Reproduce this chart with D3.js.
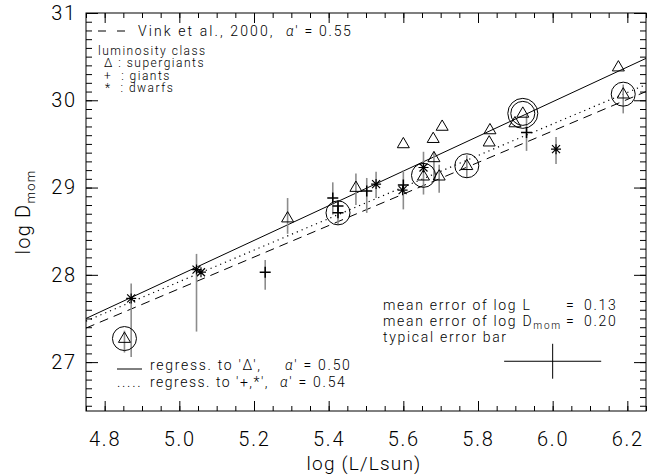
<!DOCTYPE html>
<html><head><meta charset="utf-8">
<script src="https://cdn.jsdelivr.net/npm/d3@7"></script>
<style>
body{margin:0;background:#fff}
text{font-family:Roboto,"DejaVu Sans",sans-serif;font-weight:300;fill:#000}
</style></head>
<body><svg id="c" width="663" height="476"></svg>
<script>
// ---------- data ----------
const xTicks = [4.8, 5.0, 5.2, 5.4, 5.6, 5.8, 6.0, 6.2];
const yTicks = [27, 28, 29, 30, 31];
const xDomain = [4.75, 6.25];
const yDomain = [26.44, 31];

// [logL, logD, errLow, errHigh] (null = no bar drawn)
const supergiants = [
  [4.853, 27.27, 27.11, 27.36],
  [5.290, 28.65, 28.47, 28.88],
  [5.473, 29.00, 28.80, 29.16],
  [5.600, 29.50, null, null],
  [5.654, 29.13, 28.92, 29.41],
  [5.682, 29.34, 29.09, 29.41],
  [5.680, 29.56, null, null],
  [5.704, 29.70, null, null],
  [5.696, 29.13, 28.94, 29.26],
  [5.770, 29.25, 29.11, 29.37],
  [5.830, 29.52, null, null],
  [5.832, 29.66, null, null],
  [5.899, 29.74, null, null],
  [5.920, 29.85, null, null],
  [6.176, 30.38, null, null],
  [6.189, 30.07, 29.85, 30.18]
];
const giants = [
  [5.230, 28.03, 27.83, 28.17],
  [5.411, 28.88, 28.69, 29.06],
  [5.425, 28.79, 28.58, 28.85],
  [5.425, 28.71, null, null],
  [5.502, 28.96, 28.71, 29.11],
  [5.600, 29.03, 28.75, 29.20],
  [5.930, 29.63, 29.42, 29.84]
];
const dwarfs = [
  [4.871, 27.73, 27.06, 27.90],
  [5.046, 28.06, 27.35, 28.24],
  [5.058, 28.03, null, null],
  [5.527, 29.04, 28.88, 29.18],
  [5.598, 28.97, null, null],
  [5.654, 29.23, null, null],
  [6.009, 29.44, 29.27, 29.58]
];
// [logL, logD, number of rings]
const circled = [
  [4.853, 27.27, 1],
  [5.425, 28.71, 1],
  [5.654, 29.14, 1],
  [5.770, 29.25, 1],
  [5.920, 29.85, 2],
  [6.189, 30.07, 1]
];
// fitted relations: endpoints [logL, logD]
const regressSuper  = [[4.75, 27.50], [6.25, 30.48]];
const regressOthers = [[4.75, 27.47], [6.25, 30.18]];
const vink2000      = [[4.75, 27.39], [6.25, 30.10]];
const alphaSuper = '0.50', alphaOthers = '0.54', alphaVink = '0.55';
const meanErrL = 0.13, meanErrD = 0.20;
const typicalBarCenter = [6.0, 27.01];

// ---------- drawing ----------
const svg = d3.select('#c');
const L = 86, R = 646, T = 13, B = 411;
const x = d3.scaleLinear().domain(xDomain).range([L, R]);
const y = d3.scaleLinear().domain(yDomain).range([B, T]);

function clean(g){
  g.select('.domain').remove();
  g.selectAll('line').attr('stroke', '#000').attr('stroke-width', 1);
}
const xMinor = d3.range(xDomain[0], xDomain[1] + 1e-9, 0.05);
const yMinor = d3.range(26.5, 31.0001, 0.1);

// bottom
svg.append('g').attr('transform', `translate(0,${B})`)
  .call(d3.axisBottom(x).tickValues(xMinor).tickSize(-5).tickFormat('')).call(clean);
svg.append('g').attr('transform', `translate(0,${B})`)
  .call(d3.axisBottom(x).tickValues(xTicks).tickSize(-10).tickPadding(21).tickFormat(d3.format('.1f')))
  .call(clean)
  .selectAll('text').attr('font-size', 20).attr('font-family', 'Roboto,sans-serif').style('letter-spacing', '1.8px');
// top
svg.append('g').attr('transform', `translate(0,${T})`)
  .call(d3.axisTop(x).tickValues(xMinor).tickSize(-5).tickFormat('')).call(clean);
svg.append('g').attr('transform', `translate(0,${T})`)
  .call(d3.axisTop(x).tickValues(xTicks).tickSize(-10).tickFormat('')).call(clean);
// left
svg.append('g').attr('transform', `translate(${L},0)`)
  .call(d3.axisLeft(y).tickValues(yMinor).tickSize(-6).tickFormat('')).call(clean);
svg.append('g').attr('transform', `translate(${L},0)`)
  .call(d3.axisLeft(y).tickValues(yTicks).tickSize(-12).tickPadding(9).tickFormat(d3.format('d')))
  .call(clean)
  .selectAll('text').attr('font-size', 20).attr('font-family', 'Roboto,sans-serif').style('letter-spacing', '1.8px');
// right
svg.append('g').attr('transform', `translate(${R},0)`)
  .call(d3.axisRight(y).tickValues(yMinor).tickSize(-6).tickFormat('')).call(clean);
svg.append('g').attr('transform', `translate(${R},0)`)
  .call(d3.axisRight(y).tickValues(yTicks).tickSize(-12).tickFormat('')).call(clean);

svg.append('rect').attr('x', L).attr('y', T).attr('width', R - L).attr('height', B - T)
  .attr('fill', 'none').attr('stroke', '#000').attr('stroke-width', 1);

// lines
const line = d3.line().x(d => x(d[0])).y(d => y(d[1]));
svg.append('path').attr('d', line(regressSuper)).attr('fill', 'none').attr('stroke', '#000').attr('stroke-width', 1);
svg.append('path').attr('d', line(regressOthers)).attr('fill', 'none').attr('stroke', '#000').attr('stroke-width', 1.2).attr('stroke-dasharray', '1.2,4');
svg.append('path').attr('d', line(vink2000)).attr('fill', 'none').attr('stroke', '#000').attr('stroke-width', 1).attr('stroke-dasharray', '9,6');

// error bars
const allPts = supergiants.concat(giants, dwarfs).filter(d => d[2] !== null);
svg.append('g').selectAll('line').data(allPts).join('line')
  .attr('x1', d => x(d[0])).attr('x2', d => x(d[0]))
  .attr('y1', d => y(d[2])).attr('y2', d => y(d[3]))
  .attr('stroke', '#8c8c8c').attr('stroke-width', 1.6);

// circles
circled.forEach(c => {
  d3.range(c[2]).forEach(i => {
    svg.append('circle').attr('cx', x(c[0])).attr('cy', y(c[1])).attr('r', 12 + i * 3)
      .attr('fill', 'none').attr('stroke', '#000').attr('stroke-width', 1);
  });
});

// markers
svg.append('g').selectAll('path').data(supergiants).join('path')
  .attr('transform', d => `translate(${x(d[0])},${y(d[1])})`)
  .attr('d', 'M0,-6.5L6,3.8L-6,3.8Z').attr('fill', 'none').attr('stroke', '#000').attr('stroke-width', 1);
svg.append('g').selectAll('path').data(giants).join('path')
  .attr('transform', d => `translate(${x(d[0])},${y(d[1])})`)
  .attr('d', 'M-5.5,0H5.5M0,-5.5V5.5').attr('fill', 'none').attr('stroke', '#000').attr('stroke-width', 1.5);
svg.append('g').selectAll('path').data(dwarfs).join('path')
  .attr('transform', d => `translate(${x(d[0])},${y(d[1])})`)
  .attr('d', 'M-5,0H5M0,-5V5M-4,-4L4,4M-4,4L4,-4').attr('fill', 'none').attr('stroke', '#000').attr('stroke-width', 1.2);

// typical error bar
const tb = typicalBarCenter;
svg.append('line').attr('x1', x(tb[0] - meanErrL)).attr('x2', x(tb[0] + meanErrL))
  .attr('y1', y(tb[1])).attr('y2', y(tb[1])).attr('stroke', '#000').attr('stroke-width', 1);
svg.append('line').attr('x1', x(tb[0])).attr('x2', x(tb[0]))
  .attr('y1', y(tb[1] - meanErrD)).attr('y2', y(tb[1] + meanErrD)).attr('stroke', '#000').attr('stroke-width', 1);

// ---------- text ----------
const fs = 14;
const ls = '1.7px';
function txt(xp, yp, s, size, spacing){
  return svg.append('text').attr('x', xp).attr('y', yp).attr('font-size', size || fs)
    .attr('dominant-baseline', 'central').style('letter-spacing', spacing || ls)
    .attr('xml:space', 'preserve').text(s);
}
function alphaText(xp, yp, val){
  const t = svg.append('text').attr('x', xp).attr('y', yp).attr('font-size', fs)
    .attr('dominant-baseline', 'central').style('letter-spacing', ls).attr('xml:space', 'preserve');
  t.append('tspan').attr('font-style', 'italic').text('α');
  t.append('tspan').text("' = " + val);
  return t;
}
// top-left legend
svg.append('line').attr('x1', 98).attr('x2', 106).attr('y1', 31).attr('y2', 31).attr('stroke', '#000');
svg.append('line').attr('x1', 117).attr('x2', 125).attr('y1', 31).attr('y2', 31).attr('stroke', '#000');
txt(138, 31, 'Vink et al., 2000,', fs, '2.1px');
alphaText(286, 31, alphaVink);
txt(98, 50.5, 'luminosity class', 12, '1.5px');
txt(104, 63, 'Δ : supergiants', 12, '1.5px');
txt(104, 75.5, '+  : giants', 12, '1.5px');
txt(105, 88, '*  : dwarfs', 12, '1.5px');

// bottom-left legend
svg.append('line').attr('x1', 117).attr('x2', 142).attr('y1', 369).attr('y2', 369).attr('stroke', '#000');
txt(150, 365, "regress. to 'Δ',");
alphaText(285, 365, alphaSuper);
txt(117, 382, '.....');
txt(150, 382, "regress. to '+,*',", fs, '1.5px');
alphaText(280, 382, alphaOthers);

// bottom-right block
txt(383, 305, 'mean error of log L');
txt(566, 305, '=');
txt(584, 305, meanErrL.toFixed(2));
const t2 = svg.append('text').attr('x', 383).attr('y', 321).attr('font-size', fs)
  .attr('dominant-baseline', 'central').style('letter-spacing', ls);
t2.append('tspan').text('mean error of log D');
t2.append('tspan').attr('font-size', 10).attr('dy', 4).text('mom');
txt(566, 321, '=');
txt(584, 321, meanErrD.toFixed(2));
txt(383, 337, 'typical error bar');

// axis titles
svg.append('text').attr('x', (L + R) / 2 - 2).attr('y', 463).attr('font-size', 19)
  .attr('text-anchor', 'middle').attr('dominant-baseline', 'central').style('letter-spacing', '1.2px')
  .text('log (L/Lsun)');
const yt = svg.append('text').attr('transform', `translate(30,${(T + B) / 2}) rotate(-90)`)
  .attr('font-size', 20).attr('text-anchor', 'middle').style('letter-spacing', '1.2px');
yt.append('tspan').text('log D');
yt.append('tspan').attr('font-size', 13).attr('dy', 5).text('mom');
</script></body></html>
